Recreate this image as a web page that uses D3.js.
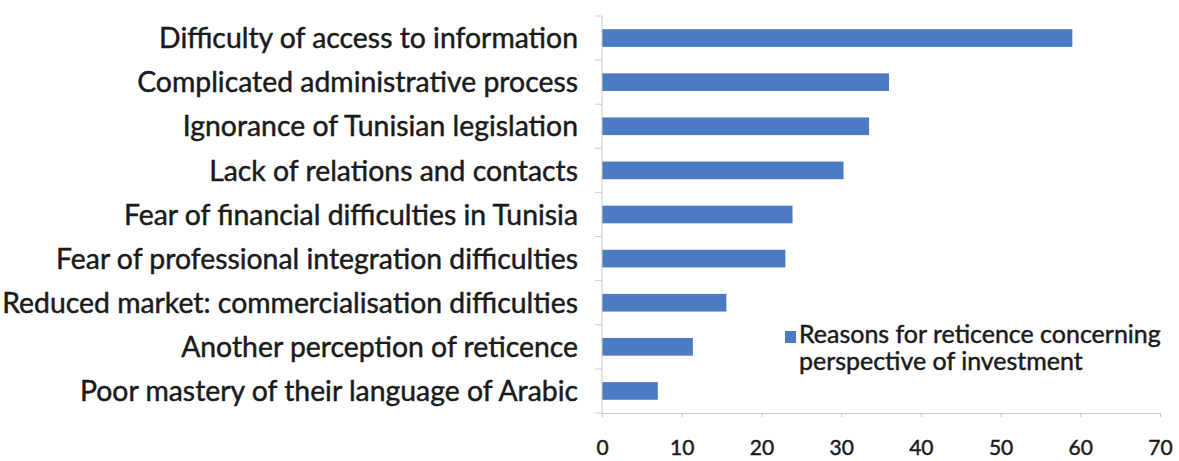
<!DOCTYPE html>
<html>
<head>
<meta charset="utf-8">
<script src="https://cdn.jsdelivr.net/npm/d3@7"></script>
<style>
  body { margin: 0; background: #fff; }
  svg { display: block; }
  text { font-family: Lato, "Open Sans", sans-serif; fill: #1a1a1a; stroke: #1a1a1a; stroke-width: 0.45px; }
</style>
</head>
<body>
<svg id="chart" width="1179" height="461"></svg>
<script>
// reasons, top to bottom
var reasons = [
  'Difficulty of access to information',
  'Complicated administrative process',
  'Ignorance of Tunisian legislation',
  'Lack of relations and contacts',
  'Fear of financial difficulties in Tunisia',
  'Fear of professional integration difficulties',
  'Reduced market: commercialisation difficulties',
  'Another perception of reticence',
  'Poor mastery of their language of Arabic'
]
var values = [59, 36, 33.5, 30.3, 23.9, 23, 15.6, 11.4, 7]
var xTicks = [0, 10, 20, 30, 40, 50, 60, 70]
var legendLines = ['Reasons for reticence concerning', 'perspective of investment']

var svg = d3.select('#chart')
var barColor = '#4a7bc3'

var x = d3.scaleLinear().domain([0, 70]).range([602, 1160])
var y = d3.scaleBand().domain(reasons).range([16, 413]).paddingInner(0.6).paddingOuter(0.3)

// bars
svg.append('g').selectAll('rect')
  .data(reasons)
  .enter().append('rect')
  .attr('x', x(0))
  .attr('y', function (d) { return y(d) })
  .attr('width', function (d, i) { return x(values[i]) - x(0) })
  .attr('height', y.bandwidth())
  .attr('fill', barColor)

// y axis: line + ticks at band boundaries
var bounds = reasons.map(function (d) { return y(d) - y.step() * y.paddingInner() / 2 })
bounds.push(413)
var yAxis = svg.append('g')
yAxis.append('line')
  .attr('x1', x(0)).attr('x2', x(0))
  .attr('y1', 16).attr('y2', 413)
  .attr('stroke', '#c8c8c8')
yAxis.selectAll('.tk').data(bounds).enter().append('line')
  .attr('x1', x(0) - 7).attr('x2', x(0))
  .attr('y1', function (d) { return d }).attr('y2', function (d) { return d })
  .attr('stroke', '#d0d0d0')

// category labels, sized to fit the left margin
var labels = yAxis.selectAll('.lbl').data(reasons).enter().append('text')
  .attr('x', 578)
  .attr('y', function (d) { return y(d) + y.bandwidth() / 2 })
  .attr('dy', '0.36em')
  .attr('text-anchor', 'end')
  .style('font-size', '20px')
  .text(function (d) { return d })
var widest = d3.max(labels.nodes(), function (n) { return n.getComputedTextLength() })
labels.style('font-size', (20 * 576 / widest) + 'px')

// x axis
var xAxis = svg.append('g').attr('transform', 'translate(0,413)')
  .call(d3.axisBottom(x).tickValues(xTicks).tickSize(4).tickPadding(8))
xAxis.select('.domain').attr('stroke', '#c8c8c8')
xAxis.selectAll('.tick line').attr('stroke', '#c8c8c8')
xAxis.selectAll('.tick text')
  .attr('y', 42).attr('dy', 0)
  .style('font-size', '21px').style('fill', '#1a1a1a')
  .style('font-family', 'Lato, "Open Sans", sans-serif')

// legend
var legend = svg.append('g')
legend.append('rect')
  .attr('x', 785).attr('y', 331).attr('width', 11).attr('height', 12)
  .attr('fill', barColor)
var lt = legend.selectAll('.lg').data(legendLines).enter().append('text')
  .attr('x', 799)
  .attr('y', function (d, i) { return 343 + i * 27 })
  .style('font-size', '18px')
  .text(function (d) { return d })
var lw = lt.nodes()[0].getComputedTextLength()
lt.style('font-size', (18 * 362 / lw) + 'px')
</script>
</body>
</html>
